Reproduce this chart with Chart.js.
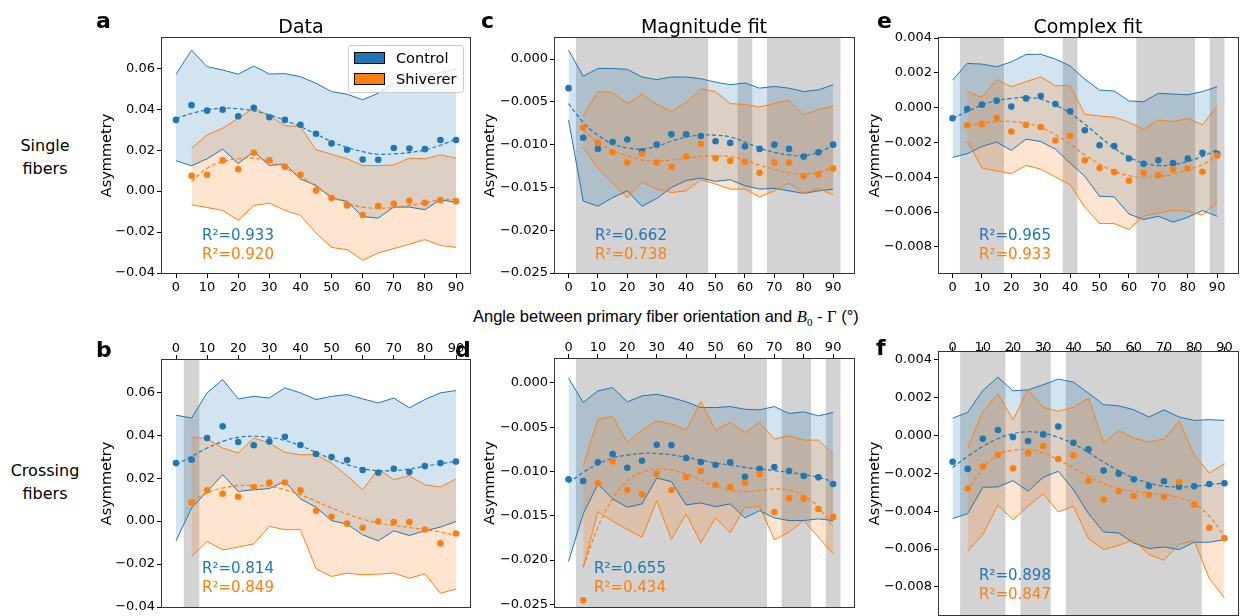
<!DOCTYPE html>
<html>
<head>
<meta charset="utf-8">
<script src="https://cdn.jsdelivr.net/npm/chart.js@4/dist/chart.umd.min.js"></script>
<style>
  body { margin: 0; width: 1241px; height: 616px; overflow: hidden; background: #fff; position: relative; font-family: 'DejaVu Sans', sans-serif; }
  canvas { position: absolute; }
  .t { position: absolute; white-space: nowrap; line-height: 1; color: #000; }
  .letter { font-weight: bold; font-size: 22px; }
  .title { font-size: 19px; text-align: center; width: 300px; }
  .row { font-size: 16px; line-height: 23px; text-align: center; width: 90px; left: 0; }
  .r2 { font-size: 15px; }
  .legend { position: absolute; left: 348px; top: 45px; width: 114px; height: 46px; border: 1px solid #ccc; border-radius: 3px; background: rgba(255,255,255,0.8); }
  .patch { position: absolute; left: 5px; width: 29px; height: 10px; border: 1px solid #000; }
</style>
</head>
<body>
<script>
'use strict';

// angles (deg) shared by every panel
const angles = [0, 5, 10, 15, 20, 25, 30, 35, 40, 45, 50, 55, 60, 65, 70, 75, 80, 85, 90];
const xTicks = [0, 10, 20, 30, 40, 50, 60, 70, 80, 90];
const yTicksAB = [-0.04, -0.02, 0, 0.02, 0.04, 0.06];
const yTicksCD = [-0.025, -0.02, -0.015, -0.01, -0.005, 0];
const yTicksEF = [-0.008, -0.006, -0.004, -0.002, 0, 0.002, 0.004];

// a - Data, single fibers
const aCtlUp  = [0.0571, 0.0689, 0.0608, 0.0592, 0.0571, 0.0611, 0.0572, 0.0574, 0.0559, 0.0527, 0.0486, 0.0473, 0.0446, 0.0478, 0.0527, 0.0551, 0.0564, 0.0580, 0.0597];
const aCtlLo  = [0.0148, 0.0124, 0.0158, 0.0205, 0.0135, 0.0193, 0.0125, 0.0132, 0.0059, 0.0028, -0.0034, -0.0050, -0.0124, -0.0132, -0.0078, -0.0078, -0.0091, -0.0042, -0.0055];
const aCtlPts = [0.0348, 0.0420, 0.0393, 0.0398, 0.0366, 0.0407, 0.0361, 0.0348, 0.0324, 0.0280, 0.0233, 0.0202, 0.0154, 0.0153, 0.0211, 0.0208, 0.0205, 0.0250, 0.0250];
const aCtlFit = [0.0356, 0.0379, 0.0397, 0.0405, 0.0402, 0.0392, 0.0372, 0.0346, 0.0315, 0.0279, 0.0242, 0.0213, 0.0193, 0.0180, 0.0182, 0.0188, 0.0202, 0.0224, 0.0254];
const aShvUp  = [null, 0.0210, 0.0275, 0.0307, 0.0356, 0.0405, 0.0369, 0.0320, 0.0315, 0.0202, 0.0180, 0.0158, 0.0125, 0.0125, 0.0128, 0.0161, 0.0158, 0.0177, 0.0161];
const aShvLo  = [null, -0.0067, -0.0080, -0.0094, -0.0143, -0.0070, -0.0059, -0.0094, -0.0119, -0.0205, -0.0275, -0.0286, -0.0338, -0.0302, -0.0281, -0.0259, -0.0237, -0.0265, -0.0275];
const aShvPts = [null, 0.0075, 0.0080, 0.0150, 0.0107, 0.0187, 0.0151, 0.0119, 0.0080, 0.0003, -0.0034, -0.0070, -0.0117, -0.0073, -0.0062, -0.0047, -0.0057, -0.0044, -0.0049];
const aShvFit = [null, 0.0047, 0.0112, 0.0145, 0.0158, 0.0161, 0.0145, 0.0112, 0.0072, 0.0023, -0.0026, -0.0059, -0.0078, -0.0083, -0.0080, -0.0070, -0.0057, -0.0044, -0.0037];
const aSig = [];

// b - Data, crossing fibers
const bCtlUp  = [0.0493, 0.0480, 0.0597, 0.0659, 0.0569, 0.0581, 0.0573, 0.0620, 0.0597, 0.0566, 0.0581, 0.0589, 0.0569, 0.0550, 0.0573, 0.0527, 0.0566, 0.0597, 0.0608];
const bCtlLo  = [-0.0092, 0.0061, 0.0138, 0.0216, 0.0138, 0.0146, 0.0151, 0.0185, 0.0103, 0.0065, 0.0002, -0.0014, -0.0064, -0.0092, -0.0045, -0.0067, -0.0045, -0.0028, -0.0002];
const bCtlPts = [0.0270, 0.0286, 0.0387, 0.0441, 0.0368, 0.0353, 0.0370, 0.0393, 0.0354, 0.0312, 0.0298, 0.0284, 0.0238, 0.0225, 0.0244, 0.0228, 0.0256, 0.0270, 0.0277];
const bCtlFit = [0.0263, 0.0301, 0.0340, 0.0371, 0.0390, 0.0395, 0.0390, 0.0375, 0.0351, 0.0320, 0.0289, 0.0263, 0.0244, 0.0235, 0.0235, 0.0242, 0.0255, 0.0267, 0.0278];
const bShvUp  = [null, 0.0392, 0.0384, 0.0340, 0.0317, 0.0387, 0.0364, 0.0320, 0.0309, 0.0309, 0.0270, 0.0211, 0.0146, 0.0242, 0.0193, 0.0211, 0.0169, 0.0159, 0.0196];
const bShvLo  = [null, -0.0165, -0.0095, -0.0134, -0.0121, -0.0106, -0.0025, -0.0040, -0.0040, -0.0222, -0.0258, -0.0242, -0.0250, -0.0247, -0.0242, -0.0266, -0.0246, -0.0336, -0.0317];
const bShvPts = [null, 0.0087, 0.0143, 0.0127, 0.0113, 0.0159, 0.0179, 0.0180, 0.0143, 0.0048, 0.0020, -0.0012, -0.0031, -0.0002, -0.0005, -0.0005, -0.0039, -0.0104, -0.0058];
const bShvFit = [null, 0.0092, 0.0131, 0.0154, 0.0165, 0.0166, 0.0162, 0.0146, 0.0123, 0.0092, 0.0061, 0.0033, 0.0009, -0.0009, -0.0020, -0.0030, -0.0040, -0.0051, -0.0068];
const bSig = [5];

// c - Magnitude fit, single fibers
const cCtlUp  = [0.00105, -0.0020, -0.0011, -0.0011, -0.0012, -0.0021, -0.0024, -0.0021, -0.0021, -0.0023, -0.0027, -0.0030, -0.0028, -0.0034, -0.0032, -0.0034, -0.0038, -0.0036, -0.0030];
const cCtlLo  = [-0.0071, -0.0166, -0.0172, -0.0162, -0.0154, -0.0172, -0.0163, -0.0150, -0.0142, -0.0139, -0.0143, -0.0141, -0.0148, -0.0152, -0.0151, -0.0154, -0.0157, -0.0154, -0.0152];
const cCtlPts = [-0.0034, -0.0092, -0.0105, -0.0097, -0.0094, -0.0108, -0.0100, -0.0088, -0.0088, -0.0090, -0.0096, -0.0098, -0.0102, -0.0105, -0.0100, -0.0105, -0.0114, -0.0109, -0.0100];
const cCtlFit = [-0.0052, -0.0074, -0.0089, -0.0099, -0.0104, -0.0105, -0.0102, -0.0096, -0.0091, -0.0089, -0.0089, -0.0091, -0.0097, -0.0104, -0.0109, -0.0112, -0.0113, -0.0109, -0.0101];
const cShvUp  = [null, -0.0066, -0.0038, -0.0039, -0.0052, -0.0041, -0.0053, -0.0061, -0.0051, -0.0035, -0.0038, -0.0052, -0.0053, -0.0056, -0.0052, -0.0048, -0.0065, -0.0059, -0.0055];
const cShvLo  = [null, -0.0103, -0.0128, -0.0145, -0.0162, -0.0144, -0.0152, -0.0156, -0.0154, -0.0141, -0.0146, -0.0152, -0.0152, -0.0161, -0.0154, -0.0145, -0.0157, -0.0151, -0.0159];
const cShvPts = [null, -0.0080, -0.0098, -0.0109, -0.0121, -0.0111, -0.0121, -0.0126, -0.0114, -0.0099, -0.0116, -0.0119, -0.0120, -0.0133, -0.0121, -0.0121, -0.0137, -0.0135, -0.0128];
const cShvFit = [null, -0.0083, -0.0097, -0.0107, -0.0113, -0.0118, -0.0119, -0.0118, -0.0116, -0.0114, -0.0113, -0.0114, -0.0118, -0.0124, -0.0129, -0.0133, -0.0134, -0.0132, -0.0127];
const cSig = [5, 10, 15, 20, 25, 30, 35, 40, 45, 60, 70, 75, 80, 85, 90];

// d - Magnitude fit, crossing fibers
const dCtlUp  = [0.00053, -0.0022, -0.0009, -0.00053, -0.00214, -0.00146, -0.00128, -0.00165, -0.00214, -0.00278, -0.00278, -0.00267, -0.00297, -0.00304, -0.00267, -0.00345, -0.00327, -0.00372, -0.00334];
const dCtlLo  = [-0.02016, -0.01479, -0.01141, -0.0131, -0.01404, -0.01366, -0.01074, -0.01115, -0.01378, -0.01355, -0.01397, -0.01366, -0.01524, -0.01442, -0.01524, -0.01554, -0.01554, -0.01535, -0.01554];
const dCtlPts = [-0.01089, -0.01107, -0.00897, -0.00803, -0.00957, -0.00878, -0.00698, -0.00702, -0.00848, -0.00893, -0.00927, -0.00897, -0.01059, -0.00969, -0.0095, -0.00995, -0.01051, -0.01066, -0.01141];
const dCtlFit = [-0.0113, -0.0101, -0.00916, -0.00848, -0.00815, -0.00796, -0.00796, -0.00811, -0.00841, -0.00871, -0.00905, -0.00927, -0.00954, -0.00972, -0.00991, -0.0101, -0.01036, -0.01066, -0.01115];
const dShvUp  = [null, -0.00935, -0.00409, -0.00379, -0.00672, -0.00533, -0.00428, -0.00465, -0.00533, -0.0021, -0.00533, -0.00447, -0.00559, -0.00447, -0.00634, -0.00597, -0.00646, -0.00646, -0.00803];
const dShvLo  = [null, -0.0208, -0.01453, -0.01562, -0.01655, -0.01742, -0.01329, -0.01768, -0.01479, -0.01806, -0.01524, -0.01693, -0.01404, -0.01397, -0.01772, -0.01686, -0.01554, -0.01742, -0.0193];
const dShvPts = [null, -0.02455, -0.01134, -0.00886, -0.01209, -0.01258, -0.01025, -0.01209, -0.01066, -0.00995, -0.01152, -0.01175, -0.0113, -0.01029, -0.01457, -0.01303, -0.01306, -0.01423, -0.01513];
const dShvFit = [null, -0.0208, -0.01629, -0.0131, -0.01104, -0.0101, -0.00972, -0.00984, -0.01029, -0.01096, -0.01167, -0.01209, -0.01224, -0.01216, -0.01197, -0.01209, -0.01273, -0.01404, -0.01629];
const dSig = [5, 10, 15, 20, 25, 30, 35, 40, 45, 50, 55, 60, 65, 75, 80, 90];

// e - Complex fit, single fibers
const eCtlUp  = [0.00158, 0.00254, 0.0025, 0.00235, 0.00263, 0.00305, 0.00307, 0.00279, 0.00239, 0.00164, 0.00101, 0.00095, 0.00038, 0.00034, 0.00082, 0.00078, 0.00074, 0.00092, 0.0012];
const eCtlLo  = [-0.00286, -0.00265, -0.00223, -0.00198, -0.00246, -0.00181, -0.00195, -0.00239, -0.00319, -0.00395, -0.00509, -0.00513, -0.00611, -0.00643, -0.00624, -0.00658, -0.0063, -0.00591, -0.00624];
const eCtlPts = [-0.00061, -0.00008, 0.00017, 0.0004, 0.00006, 0.00053, 0.00067, 0.00021, -0.00021, -0.0013, -0.00216, -0.00221, -0.00292, -0.00322, -0.00303, -0.00319, -0.00292, -0.00259, -0.00265];
const eCtlFit = [-0.0006, -0.00023, 0.00015, 0.0004, 0.00053, 0.00059, 0.00048, 0.00015, -0.00032, -0.00095, -0.00166, -0.00233, -0.00284, -0.00319, -0.00332, -0.00328, -0.00309, -0.0028, -0.00242];
const eShvUp  = [null, 0.00092, 0.00059, 0.00162, 0.0012, 0.00149, 0.00177, 0.00126, 0.00126, -0.00038, -0.00048, -0.00055, -0.00084, -0.00124, -0.00071, -0.0008, -0.00061, -0.00099, 0.0001];
const eShvLo  = [null, -0.00191, -0.00347, -0.00363, -0.0038, -0.00332, -0.00353, -0.00399, -0.00443, -0.00572, -0.00666, -0.00666, -0.007, -0.00624, -0.00605, -0.00591, -0.00595, -0.00618, -0.00544];
const eShvPts = [null, -0.00101, -0.00095, -0.00059, -0.00137, -0.00099, -0.00111, -0.00189, -0.00162, -0.00303, -0.00347, -0.0037, -0.0042, -0.00374, -0.00389, -0.00355, -0.00351, -0.00368, -0.00275];
const eShvFit = [null, -0.00109, -0.0009, -0.0008, -0.0008, -0.0009, -0.00114, -0.00156, -0.0021, -0.00271, -0.00324, -0.00366, -0.00391, -0.004, -0.00395, -0.00382, -0.00357, -0.00328, -0.00275];
const eSig = [5, 10, 15, 40, 65, 70, 75, 80, 90];

// f - Complex fit, crossing fibers
const fCtlUp  = [0.00091, 0.00121, 0.00237, 0.00307, 0.00235, 0.0024, 0.00267, 0.00297, 0.00281, 0.00223, 0.00162, 0.00156, 0.00135, 0.00097, 0.00135, 0.00097, 0.00079, 0.00083, 0.00079];
const fCtlLo  = [-0.00439, -0.00413, -0.00274, -0.00272, -0.00239, -0.00295, -0.00221, -0.0019, -0.00286, -0.00413, -0.0051, -0.00515, -0.00568, -0.00597, -0.00589, -0.00603, -0.00564, -0.00564, -0.0055];
const fCtlPts = [-0.00139, -0.00177, -0.00018, 0.00028, -0.00009, -0.0003, 0.00005, 0.00047, -0.00039, -0.00074, -0.00186, -0.00202, -0.00232, -0.00267, -0.00242, -0.00271, -0.00269, -0.00257, -0.00253];
const fCtlFit = [-0.00169, -0.00111, -0.00058, -0.00018, 0.00009, 0.00019, 0.00012, -0.00011, -0.00044, -0.0009, -0.00141, -0.00186, -0.00225, -0.00251, -0.00269, -0.00272, -0.00269, -0.0026, -0.00251];
const fShvUp  = [null, -0.00067, 0.00127, 0.00218, 0.00083, 0.0024, 0.00148, 0.00127, 0.00148, 0.00197, -0.0004, 0.00026, -0.00014, -0.00035, -0.00019, 0.00074, -0.00102, -0.00199, -0.00149];
const fShvLo  = [null, -0.00611, -0.00524, -0.00369, -0.00445, -0.00374, -0.00309, -0.00404, -0.00374, -0.00545, -0.00603, -0.0058, -0.00553, -0.00629, -0.00659, -0.00576, -0.00555, -0.00756, -0.00857];
const fShvPts = [null, -0.00281, -0.00165, -0.00102, -0.00174, -0.00095, -0.00056, -0.00125, -0.00105, -0.00241, -0.00339, -0.00295, -0.0032, -0.00313, -0.00325, -0.00246, -0.00365, -0.00488, -0.00543];
const fShvFit = [null, -0.00295, -0.00172, -0.00102, -0.00079, -0.00076, -0.00093, -0.00128, -0.00172, -0.00216, -0.00255, -0.00281, -0.00295, -0.00304, -0.00313, -0.0033, -0.0036, -0.00427, -0.00532];
const fSig = [5, 10, 15, 25, 30, 40, 45, 50, 55, 60, 65, 70, 75, 80];

// R^2 of the fits, panels a..f
const r2Control  = [0.933, 0.814, 0.662, 0.655, 0.965, 0.898];
const r2Shiverer = [0.920, 0.849, 0.738, 0.434, 0.933, 0.847];

const BLUE = '#1f77b4', ORANGE = '#ff7f0e';
const BLUE_FILL = 'rgba(31,119,180,0.2)', ORANGE_FILL = 'rgba(255,127,14,0.2)';

function series(vals) {
  return angles.map((a, i) => ({x: a, y: vals[i]})).filter(p => p.y !== null);
}

function groupSets(up, lo, pts, fit, color, fill, order) {
  return [
    {data: series(up), borderColor: color, borderWidth: 1, pointRadius: 0, fill: '+1', backgroundColor: fill, order: order},
    {data: series(lo), borderColor: color, borderWidth: 1, pointRadius: 0, fill: false, order: order},
    {data: series(fit), borderColor: color, borderWidth: 1.2, borderDash: [4, 2.5], pointRadius: 0, tension: 0.4, fill: false, order: order - 5},
    {data: series(pts), showLine: false, pointRadius: 3.3, pointBorderWidth: 0, pointBackgroundColor: color, order: order - 7}
  ];
}

// grey spans behind everything at significant angles
const sigBands = {
  id: 'sigBands',
  beforeDraw(chart, args, opts) {
    const sig = opts.angles || [];
    if (!sig.length) return;
    const {ctx, chartArea: a, scales: {x}} = chart;
    const runs = [];
    sig.forEach(v => {
      const r = runs[runs.length - 1];
      if (r && v - r[1] <= 5) r[1] = v; else runs.push([v, v]);
    });
    ctx.save();
    ctx.fillStyle = '#d3d3d3';
    runs.forEach(([s, e]) => {
      const x1 = x.getPixelForValue(s - 2.5), x2 = x.getPixelForValue(e + 2.5);
      ctx.fillRect(x1, a.top, x2 - x1, a.bottom - a.top);
    });
    ctx.restore();
  }
};

const frame = {
  id: 'frame',
  afterDraw(chart) {
    const {ctx, chartArea: a} = chart;
    ctx.save();
    ctx.strokeStyle = '#333';
    ctx.lineWidth = 1;
    ctx.strokeRect(a.left - 0.5, a.top - 0.5, a.right - a.left + 1, a.bottom - a.top + 1);
    ctx.restore();
  }
};

function fmt(v, dec) {
  return v.toFixed(dec).replace('-', '\u2212');
}

function makePanel(p) {
  const [L, T, R, B] = p.box;
  const below = p.xpos === 'bottom';
  const padT = below ? 10 : 0, padB = below ? 0 : 10, padR = 10, xH = 24;
  const cLeft = p.titleX - 10;
  const axisW = L - cLeft;
  const W = axisW + (R - L) + padR;
  const H = padT + (B - T) + xH + padB;
  const cTop = below ? T - padT : T - xH;

  const cv = document.createElement('canvas');
  cv.width = W; cv.height = H;
  cv.style.left = cLeft + 'px'; cv.style.top = cTop + 'px';
  cv.style.width = W + 'px'; cv.style.height = H + 'px';
  document.body.appendChild(cv);

  const tickFont = {family: 'DejaVu Sans', size: 13};
  new Chart(cv.getContext('2d'), {
    type: 'line',
    data: {datasets: groupSets(p.ctl[0], p.ctl[1], p.ctl[2], p.ctl[3], BLUE, BLUE_FILL, 10)
      .concat(groupSets(p.shv[0], p.shv[1], p.shv[2], p.shv[3], ORANGE, ORANGE_FILL, 9))},
    options: {
      responsive: false,
      devicePixelRatio: 1,
      animation: false,
      events: [],
      layout: {padding: {left: 0, top: padT, right: padR, bottom: padB}},
      plugins: {
        legend: {display: false},
        tooltip: {enabled: false},
        filler: {drawTime: 'beforeDatasetsDraw'},
        sigBands: {angles: p.sig}
      },
      scales: {
        x: {
          type: 'linear', position: p.xpos, min: p.xr[0], max: p.xr[1],
          afterBuildTicks: s => { s.ticks = xTicks.map(v => ({value: v})); },
          afterFit: s => { s.height = xH; },
          ticks: {font: tickFont, color: '#000', padding: p.xPad, maxRotation: 0, autoSkip: false},
          grid: {drawOnChartArea: false, tickLength: 5, color: '#000'},
          border: {display: false}
        },
        y: {
          type: 'linear', min: p.yr[0], max: p.yr[1],
          afterBuildTicks: s => { s.ticks = p.yt.map(v => ({value: v})); },
          afterFit: s => { s.width = axisW; },
          ticks: {font: tickFont, color: '#000', padding: 2, callback: v => fmt(v, p.dec)},
          grid: {drawOnChartArea: false, tickLength: 5, color: '#000'},
          border: {display: false},
          title: {display: true, text: 'Asymmetry', color: '#000', font: {family: 'DejaVu Sans', size: 14.5}, padding: {top: 1.3, bottom: 0}}
        }
      }
    },
    plugins: [sigBands, frame]
  });
}

const panels = [
  {box: [162, 38, 470, 273], xpos: 'bottom', xPad: 2, xr: [-4.5, 94.5], yr: [-0.04, 0.0748], yt: yTicksAB, dec: 2, titleX: 107,
   ctl: [aCtlUp, aCtlLo, aCtlPts, aCtlFit], shv: [aShvUp, aShvLo, aShvPts, aShvFit], sig: aSig},
  {box: [162, 360, 470, 607], xpos: 'top', xPad: -1, xr: [-4.5, 94.5], yr: [-0.04, 0.075], yt: yTicksAB, dec: 2, titleX: 107,
   ctl: [bCtlUp, bCtlLo, bCtlPts, bCtlFit], shv: [bShvUp, bShvLo, bShvPts, bShvFit], sig: bSig},
  {box: [555, 38, 854, 273], xpos: 'bottom', xPad: 2, xr: [-4.6, 97.1], yr: [-0.025, 0.00246], yt: yTicksCD, dec: 3, titleX: 490,
   ctl: [cCtlUp, cCtlLo, cCtlPts, cCtlFit], shv: [cShvUp, cShvLo, cShvPts, cShvFit], sig: cSig},
  {box: [555, 359, 854, 607], xpos: 'top', xPad: -1, xr: [-4.6, 97.1], yr: [-0.0253, 0.0027], yt: yTicksCD, dec: 3, titleX: 490,
   ctl: [dCtlUp, dCtlLo, dCtlPts, dCtlFit], shv: [dShvUp, dShvLo, dShvPts, dShvFit], sig: dSig},
  {box: [939, 38, 1238, 273], xpos: 'bottom', xPad: 2, xr: [-4.6, 97.1], yr: [-0.0095, 0.004], yt: yTicksEF, dec: 3, titleX: 875,
   ctl: [eCtlUp, eCtlLo, eCtlPts, eCtlFit], shv: [eShvUp, eShvLo, eShvPts, eShvFit], sig: eSig},
  {box: [939, 352, 1238, 615], xpos: 'top', xPad: -8, xr: [-4.5, 94.5], yr: [-0.00948, 0.0044], yt: yTicksEF, dec: 3, titleX: 875,
   ctl: [fCtlUp, fCtlLo, fCtlPts, fCtlFit], shv: [fShvUp, fShvLo, fShvPts, fShvFit], sig: fSig}
];
panels.forEach(makePanel);

function addText(cls, html, left, top, extra) {
  const d = document.createElement('div');
  d.className = 't ' + cls;
  d.innerHTML = html;
  d.style.left = left + 'px';
  d.style.top = top + 'px';
  if (extra) Object.assign(d.style, extra);
  document.body.appendChild(d);
}

// panel letters
addText('letter', 'a', 96, 10);
addText('letter', 'b', 96, 339);
addText('letter', 'c', 481, 10);
addText('letter', 'd', 455, 339);
addText('letter', 'e', 877, 10);
addText('letter', 'f', 876, 337);

// column titles
addText('title', 'Data', 301 - 150, 17);
addText('title', 'Magnitude fit', 704 - 150, 17);
addText('title', 'Complex fit', 1088 - 150, 17);

// row labels
addText('row', 'Single<br>fibers', 0, 134);
addText('row', 'Crossing<br>fibers', 0, 459);

// shared x label
addText('', 'Angle between primary fiber orientation and <i style="font-family:\'Liberation Serif\'">B</i><sub style="font-size:11px;font-family:\'Liberation Serif\'">0</sub> - <span style="font-family:\'Liberation Serif\'">\u0393</span> (\u00b0)',
        473, 308, {fontFamily: 'Liberation Sans', fontSize: '16.5px'});

// R^2 annotations
const r2Pos = [[202, 228], [202, 561], [595, 228], [594, 561], [979, 228], [979, 568]];
r2Pos.forEach(([x, y], i) => {
  addText('r2', 'R\u00b2=' + r2Control[i].toFixed(3), x, y, {color: BLUE});
  addText('r2', 'R\u00b2=' + r2Shiverer[i].toFixed(3), x, y + 19, {color: ORANGE});
});

// legend (panel a)
const lg = document.createElement('div');
lg.className = 'legend';
lg.innerHTML =
  '<div class="patch" style="top:6px;background:' + BLUE + '"></div>' +
  '<div class="t" style="left:47px;top:5px;font-size:14.5px">Control</div>' +
  '<div class="patch" style="top:27px;background:' + ORANGE + '"></div>' +
  '<div class="t" style="left:47px;top:26px;font-size:14.5px">Shiverer</div>';
document.body.appendChild(lg);
</script>
</body>
</html>
